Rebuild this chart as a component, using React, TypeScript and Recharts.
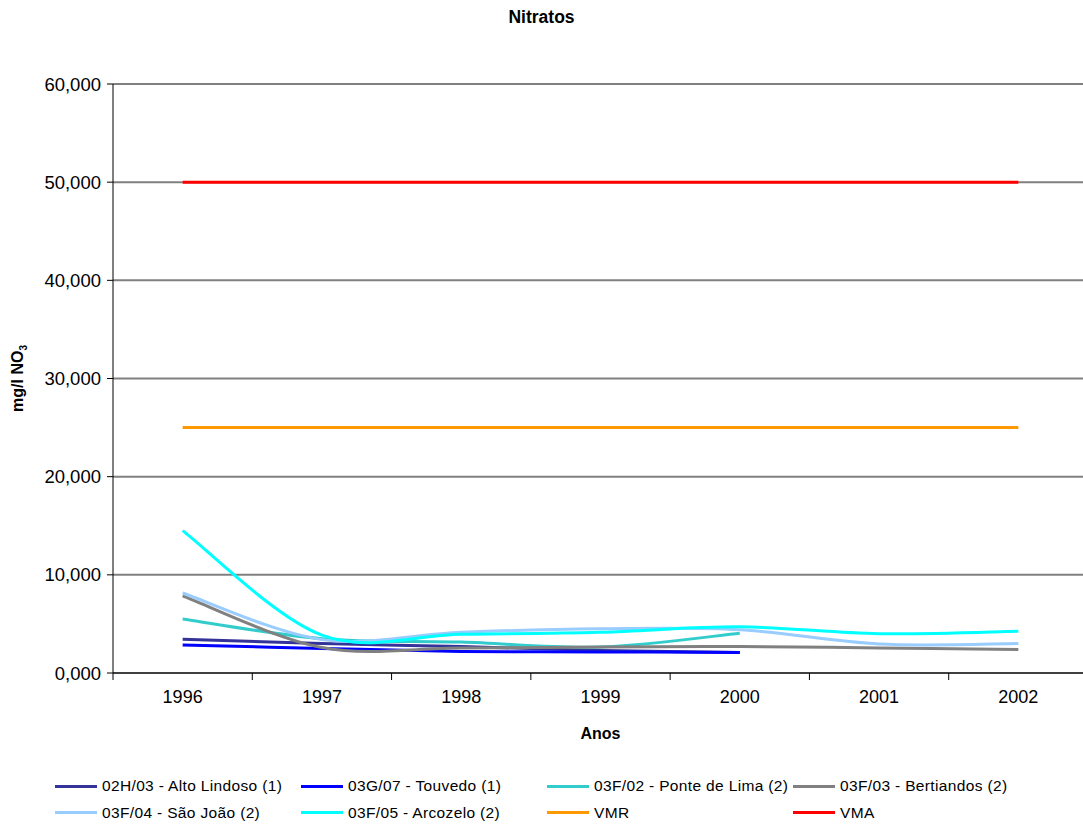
import React from 'react';
import { LineChart, Line, XAxis, YAxis, CartesianGrid } from 'recharts';

const FONT = '"Liberation Sans", Arial, sans-serif';

const YEARS = [1996, 1997, 1998, 1999, 2000, 2001, 2002];
const Y_TICKS = [0, 10, 20, 30, 40, 50, 60];

const ALTO_LINDOSO = [3.45, 3.0, 2.7, 2.3, 2.1, null, null];
const TOUVEDO = [2.85, 2.5, 2.2, 2.15, 2.1, null, null];
const PONTE_DE_LIMA = [5.5, 3.5, 3.15, 2.65, 4.05, null, null];
const BERTIANDOS = [7.85, 2.6, 2.55, 2.65, 2.7, 2.55, 2.4];
const SAO_JOAO = [8.15, 3.4, 4.15, 4.5, 4.4, 2.95, 3.0];
const ARCOZELO = [14.5, 3.85, 3.95, 4.15, 4.7, 4.0, 4.25];
const VMR = [25, 25, 25, 25, 25, 25, 25];
const VMA = [50, 50, 50, 50, 50, 50, 50];

const SERIES = [
  { key: 'alto', name: '02H/03 - Alto Lindoso (1)', color: '#333399', values: ALTO_LINDOSO },
  { key: 'touvedo', name: '03G/07 - Touvedo (1)', color: '#0000ff', values: TOUVEDO },
  { key: 'ponte', name: '03F/02 - Ponte de Lima (2)', color: '#33cccc', values: PONTE_DE_LIMA },
  { key: 'bert', name: '03F/03 - Bertiandos (2)', color: '#808080', values: BERTIANDOS },
  { key: 'sao', name: '03F/04 - São João (2)', color: '#99ccff', values: SAO_JOAO },
  { key: 'arco', name: '03F/05 - Arcozelo (2)', color: '#00ffff', values: ARCOZELO },
  { key: 'vmr', name: 'VMR', color: '#ff9900', values: VMR },
  { key: 'vma', name: 'VMA', color: '#ff0000', values: VMA },
];

const data = YEARS.map((year, i) => {
  const row: Record<string, number | null> = { year };
  SERIES.forEach(s => { row[s.key] = s.values[i]; });
  return row;
});

// labels at the year, tick marks between years (Excel style)
const X_TICKS = YEARS.flatMap(y => [y - 0.5, y]).concat(YEARS[YEARS.length - 1] + 0.5);

// Excel-like smoothed line (Catmull-Rom through the points)
const excelSmooth = (context: any) => {
  let pts: number[][] = [];
  return {
    areaStart() {},
    areaEnd() {},
    lineStart() { pts = []; },
    lineEnd() {
      const n = pts.length;
      if (!n) return;
      context.moveTo(pts[0][0], pts[0][1]);
      for (let i = 0; i < n - 1; i++) {
        const p0 = pts[Math.max(i - 1, 0)];
        const p1 = pts[i];
        const p2 = pts[i + 1];
        const p3 = pts[Math.min(i + 2, n - 1)];
        context.bezierCurveTo(
          p1[0] + (p2[0] - p0[0]) / 6, p1[1] + (p2[1] - p0[1]) / 6,
          p2[0] - (p3[0] - p1[0]) / 6, p2[1] - (p3[1] - p1[1]) / 6,
          p2[0], p2[1],
        );
      }
    },
    point(x: number, y: number) { pts.push([x, y]); },
  };
};

function YearTick({ x, y, payload }: any) {
  const v = payload.value;
  if (Number.isInteger(v)) {
    return (
      <text x={x} y={y + 30} textAnchor="middle" fontSize={18} fontFamily={FONT} fill="#000">
        {v}
      </text>
    );
  }
  return <line x1={x} x2={x} y1={y} y2={y + 7} stroke="#000" />;
}

function YTitle({ viewBox }: any) {
  const cx = viewBox.x + 23;
  const cy = viewBox.y + viewBox.height / 2;
  return (
    <text x={cx} y={cy} transform={`rotate(-90 ${cx} ${cy})`} textAnchor="middle"
      fontSize={16} fontWeight="bold" fontFamily={FONT} fill="#000">
      mg/l NO<tspan fontSize={10} dy={4}>3</tspan>
    </text>
  );
}

function XTitle({ viewBox }: any) {
  return (
    <text x={viewBox.x + viewBox.width / 2} y={viewBox.y + 66} textAnchor="middle"
      fontSize={16} fontWeight="bold" fontFamily={FONT} fill="#000">
      Anos
    </text>
  );
}

export default function App() {
  return (
    <div style={{ position: 'fixed', left: 0, top: 0, width: 1083, height: 825, overflow: 'hidden', fontFamily: FONT, background: '#fff' }}>
      <div style={{ position: 'absolute', left: 0, top: 7, width: 1083, textAlign: 'center', fontSize: 17.5, fontWeight: 'bold' }}>
        Nitratos
      </div>
      <LineChart width={1100} height={825} data={data} margin={{ top: 84, right: 12, bottom: 92, left: 0 }}>
        <CartesianGrid vertical={false} stroke="#808080" strokeWidth={2} />
        <XAxis
          dataKey="year"
          type="number"
          domain={[YEARS[0] - 0.5, YEARS[YEARS.length - 1] + 0.5]}
          ticks={X_TICKS}
          interval={0}
          tickLine={false}
          tickSize={0}
          tickMargin={0}
          tick={<YearTick />}
          axisLine={{ stroke: '#000' }}
          height={60}
          label={{ content: <XTitle /> }}
        />
        <YAxis
          width={113}
          domain={[0, 60]}
          ticks={Y_TICKS}
          interval={0}
          tickSize={6}
          tickMargin={6}
          tickFormatter={v => v.toFixed(3).replace('.', ',')}
          tick={{ fill: '#000', fontSize: 18.5, fontFamily: FONT }}
          axisLine={{ stroke: '#000' }}
          tickLine={{ stroke: '#000' }}
          label={{ content: <YTitle /> }}
        />
        {SERIES.map(s => (
          <Line
            key={s.key}
            dataKey={s.key}
            name={s.name}
            type={excelSmooth as any}
            stroke={s.color}
            strokeWidth={3}
            dot={false}
            activeDot={false}
            isAnimationActive={false}
          />
        ))}
      </LineChart>
      <div style={{ position: 'absolute', left: 55, top: 773, display: 'grid', gridTemplateColumns: 'repeat(4, 246px)', fontSize: 15.5, letterSpacing: 0.35 }}>
        {SERIES.map(s => (
          <div key={s.key} style={{ display: 'flex', alignItems: 'center', height: 26.5, whiteSpace: 'nowrap' }}>
            <span style={{ display: 'inline-block', width: 42, height: 3, background: s.color, marginRight: 5 }} />
            <span>{s.name}</span>
          </div>
        ))}
      </div>
    </div>
  );
}
